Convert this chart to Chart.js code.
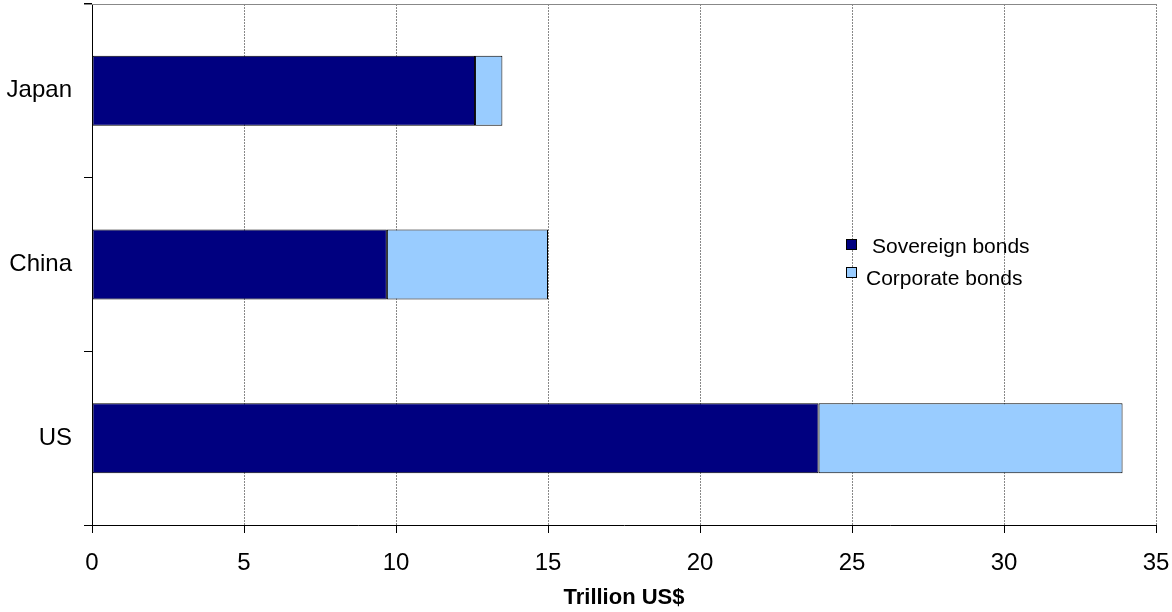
<!DOCTYPE html>
<html>
<head>
<meta charset="utf-8">
<script src="https://cdn.jsdelivr.net/npm/chart.js@4"></script>
<style>
  html, body { margin: 0; padding: 0; background: #fff; }
  #wrap { width: 1172px; height: 612px; }
</style>
</head>
<body>
<div id="wrap"><canvas id="myChart" width="1172" height="612"></canvas></div>
<script>
const ctx = document.getElementById('myChart');

// values (trillion US$)
const countries = ['Japan', 'China', 'US'];
const sovereignBonds = [12.6, 9.7, 23.9];
const corporateBonds = [0.9, 5.3, 10.0];
const xTicks = [0, 5, 10, 15, 20, 25, 30, 35];

const FONT = "'Liberation Sans', Arial, sans-serif";

// legend sits inside the plot, drawn by hand like the original
const boxLegend = {
    id: 'boxLegend',
    afterDraw(chart) {
        const c = chart.ctx;
        const items = chart.data.datasets;
        const spots = [{ bx: 846, by: 239, tx: 872, ty: 253 }, { bx: 846, by: 267, tx: 866, ty: 285 }];
        c.save();
        c.font = '21px ' + FONT;
        c.textBaseline = 'alphabetic';
        items.forEach((ds, i) => {
            const s = spots[i];
            c.fillStyle = ds.backgroundColor;
            c.fillRect(s.bx, s.by, 10, 10);
            c.strokeStyle = '#000';
            c.lineWidth = 1;
            c.strokeRect(s.bx + 0.5, s.by + 0.5, 10, 10);
            c.fillStyle = '#000';
            c.fillText(ds.label, s.tx, s.ty);
        });
        c.restore();
    }
};

// grey frame line along the top of the plot
const topFrame = {
    id: 'topFrame',
    afterDatasetsDraw(chart) {
        const a = chart.chartArea;
        const c = chart.ctx;
        c.save();
        c.strokeStyle = '#888';
        c.lineWidth = 1;
        c.beginPath();
        c.moveTo(a.left - 8, Math.round(a.top) + 0.5);
        c.lineTo(a.right, Math.round(a.top) + 0.5);
        c.stroke();
        c.restore();
    }
};

function noPad(scale) {
    scale.paddingLeft = 0;
    scale.paddingRight = 0;
    scale.paddingTop = 0;
    scale.paddingBottom = 0;
}

const visibleChart = new Chart(ctx, {
    type: 'bar',
    data: {
        labels: countries,
        datasets: [
            {
                label: 'Sovereign bonds',
                data: sovereignBonds,
                backgroundColor: '#000080',
                borderColor: '#000',
                borderWidth: 1,
                borderSkipped: false
            }, {
                label: 'Corporate bonds',
                data: corporateBonds,
                backgroundColor: '#99CCFF',
                borderColor: '#000',
                borderWidth: 1,
                borderSkipped: false
            }
        ]
    },
    options: {
        indexAxis: 'y',
        responsive: false,
        animation: false,
        barPercentage: 0.403,
        categoryPercentage: 1,
        layout: { padding: { top: 4, right: 16, left: 0, bottom: 0 } },
        plugins: {
            legend: { display: false },
            tooltip: { enabled: false }
        },
        scales: {
            x: {
                stacked: true,
                min: 0,
                max: 35,
                afterFit(scale) { scale.height = 87; noPad(scale); },
                afterBuildTicks(scale) { scale.ticks = xTicks.map(v => ({ value: v })); },
                grid: {
                    color: '#888',
                    tickColor: '#000',
                    tickLength: 8,
                    lineWidth: 1
                },
                border: { color: '#000', width: 1, dash: [2, 1] },
                ticks: {
                    color: '#000',
                    padding: 16,
                    maxRotation: 0,
                    font: { family: FONT, size: 24 }
                },
                title: {
                    display: true,
                    text: 'Trillion US$',
                    color: '#000',
                    padding: { top: 0, bottom: 1 },
                    font: { family: FONT, size: 22, weight: 'bold' }
                }
            },
            y: {
                stacked: true,
                afterFit(scale) { scale.width = 92; noPad(scale); },
                grid: {
                    drawOnChartArea: false,
                    tickColor: '#000',
                    tickLength: 8,
                    offset: true
                },
                border: { color: '#000', width: 1 },
                ticks: {
                    color: '#000',
                    padding: 12,
                    font: { family: FONT, size: 24 }
                }
            }
        }
    },
    plugins: [topFrame, boxLegend]
});
</script>
</body>
</html>
